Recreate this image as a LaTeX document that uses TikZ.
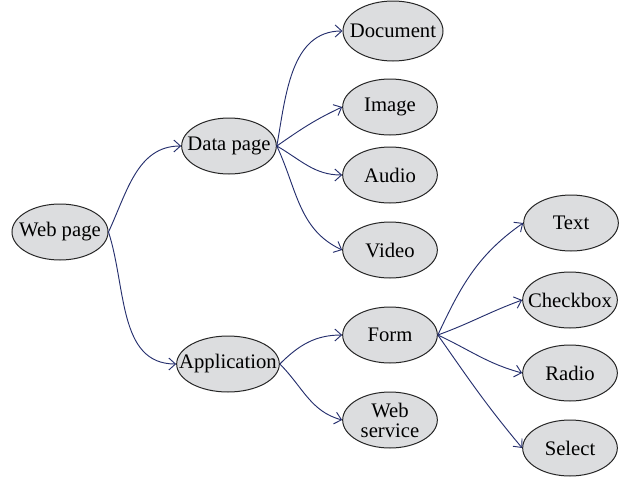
\documentclass[tikz,border=0pt]{standalone}
\usepackage{fontspec}
\setmainfont{Liberation Serif}
\usetikzlibrary{shapes.geometric, arrows.meta}
\definecolor{BubbleGray}{HTML}{DCDDDF}
\definecolor{LinkBlue}{HTML}{26306E}

\begin{document}
\begin{tikzpicture}[x=0.75pt, y=0.75pt,
    bubble/.style={ellipse, draw=black!85, fill=BubbleGray, line width=0.75pt,
        inner xsep=-12pt, inner ysep=-10pt, minimum width=71pt, minimum height=42pt,
        font=\fontsize{15.5}{15}\selectfont, align=center},
    link/.style={draw=LinkBlue, line width=0.7pt, -{Straight Barb[length=5pt,width=9pt]}}]
    \useasboundingbox (0,0) rectangle (628,480);

    % Root and first level
    \node[bubble, minimum width=72pt] (web) at (60,248) {Web page};
    \node[bubble] (data) at (229,334) {Data page};
    \node[bubble, minimum width=77pt] (app) at (228,116) {Application};

    % Data page children
    \node[bubble, minimum width=75pt, minimum height=45pt] (doc) at (393,449) {Document};
    \node[bubble] (img) at (390,373) {Image};
    \node[bubble] (audio) at (390,305) {Audio};
    \node[bubble] (video) at (390,230) {Video};

    % Application children
    \node[bubble] (form) at (390,145) {Form};
    \node[bubble] (websvc) at (390,60) {Web\\service};

    % Form children
    \node[bubble] (text) at (571,257) {Text};
    \node[bubble] (check) at (570,180) {Checkbox};
    \node[bubble] (radio) at (570,107) {Radio};
    \node[bubble] (select) at (570,32) {Select};

    % Links
    \draw[link] (web.east) to[out=65, in=180] (data.west);
    \draw[link] (web.east) to[out=-72, in=180] (app.west);
    \draw[link] (data.east) to[out=80, in=180] (doc.west);
    \draw[link] (data.east) to[out=35, in=205] (img.west);
    \draw[link] (data.east) to[out=-30, in=180] (audio.west);
    \draw[link] (data.east) to[out=-65, in=155] (video.west);
    \draw[link] (app.east) to[out=45, in=180] (form.west);
    \draw[link] (app.east) to[out=-45, in=165] (websvc.west);
    \draw[link] (form.east) to[out=65, in=215] (text.west);
    \draw[link] (form.east) to[out=20, in=200] (check.west);
    \draw[link] (form.east) to[out=-25, in=165] (radio.west);
    \draw[link] (form.east) to[out=-55, in=130] (select.west);
\end{tikzpicture}
\end{document}
